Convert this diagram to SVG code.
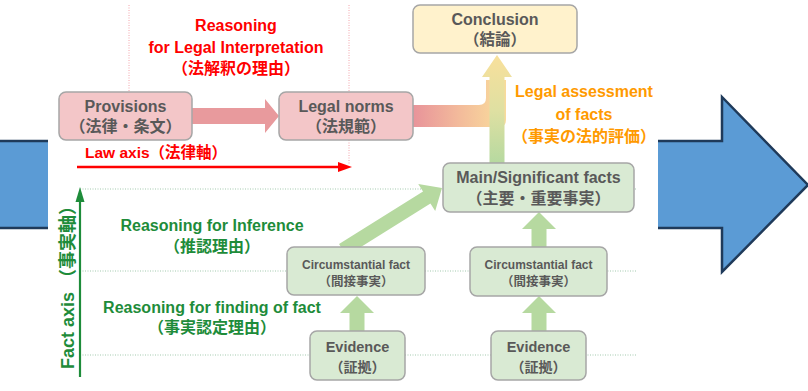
<svg xmlns="http://www.w3.org/2000/svg" width="808" height="391" viewBox="0 0 808 391">
  <defs>
    <style>
      text { font-family: "Liberation Sans", "Noto Sans CJK JP", sans-serif; font-weight: bold; }
      .node-label { fill: #595959; text-anchor: middle; }
      .law { fill: #f3c6c8; stroke: #a6a6a6; stroke-width: 1.5; }
      .fact { fill: #d9ead3; stroke: #a6a6a6; stroke-width: 1.5; }
      .concl { fill: #fff2cc; stroke: #a6a6a6; stroke-width: 1.5; }
      .grid-fact { stroke: #a3c9ae; stroke-width: 1; stroke-dasharray: 1 1.5; fill: none; }
      .grid-law { stroke: #f2a2aa; stroke-width: 1; stroke-dasharray: 1 1.5; fill: none; }
      .green-arrow { fill: #b6d9a0; }
      .red-txt { fill: #ff0000; text-anchor: middle; }
      .orange-txt { fill: #ff9a00; text-anchor: middle; }
      .green-txt { fill: #1e8c3a; text-anchor: middle; }
      .big-arrow { fill: #5b9bd5; stroke: #1f3a5a; stroke-width: 2.5; stroke-linejoin: miter; }
    </style>
    <linearGradient id="gradBand" gradientUnits="userSpaceOnUse" x1="413" y1="0" x2="500" y2="0">
      <stop offset="0" stop-color="#e8939a"/>
      <stop offset="0.55" stop-color="#f3bc9b"/>
      <stop offset="1" stop-color="#f9da9c"/>
    </linearGradient>
    <linearGradient id="gradUp" gradientUnits="userSpaceOnUse" x1="0" y1="163" x2="0" y2="58">
      <stop offset="0" stop-color="#b6d9a0"/>
      <stop offset="0.5" stop-color="#dfe0a2"/>
      <stop offset="1" stop-color="#f7e09c"/>
    </linearGradient>
  </defs>

  <!-- large blue block arrows at the sides -->
  <g id="blue-arrow-left">
    <rect x="0" y="141" width="48" height="87" fill="#5b9bd5"/>
    <path d="M0,141 H48 M48,228 H0" stroke="#1f3a5a" stroke-width="2.5" fill="none"/>
  </g>
  <g id="blue-arrow-right">
    <path d="M658,141 H722 V97 L808,185 L722,272 V228 H658" fill="#5b9bd5"/>
    <path d="M658,141 H722 V97 L808,185 L722,272 V228 H658" class="big-arrow" fill="none"/>
  </g>

  <!-- guide lines -->
  <g id="guides">
    <line class="grid-law" x1="129" y1="5" x2="129" y2="92"/>
    <line class="grid-law" x1="349" y1="5" x2="349" y2="165"/>
    <line class="grid-fact" x1="80" y1="189" x2="637" y2="189"/>
    <line class="grid-fact" x1="80" y1="271" x2="637" y2="271"/>
    <line class="grid-fact" x1="80" y1="355" x2="637" y2="355"/>
  </g>

  <!-- axes -->
  <g id="law-axis">
    <line x1="77" y1="167" x2="340" y2="167" stroke="#ff0000" stroke-width="2.5"/>
    <polygon points="338,162 352,167 338,172" fill="#ff0000"/>
    <text x="85" y="158" font-size="15.5" fill="#ff0000">Law axis（法律軸）</text>
  </g>
  <g id="fact-axis">
    <line x1="80" y1="377" x2="80" y2="200" stroke="#1e8c3a" stroke-width="2.2"/>
    <polygon points="75.5,202 80,187 84.5,202" fill="#1e8c3a"/>
    <text transform="translate(73.5,283) rotate(-90)" x="0" y="0" font-size="18" fill="#1e8c3a" text-anchor="middle">Fact axis （事実軸）</text>
  </g>

  <!-- connectors -->
  <g id="connectors">
    <!-- provisions to legal norms -->
    <polygon points="192,108 265,108 265,99 279,116 265,133 265,124 192,124" fill="#e89a9d"/>
    <!-- legal norms joining the assessment column -->
    <path d="M413,105 H479 Q486,105 486,98 V80 H506 V120 Q506,127 499,127 H413 Z" fill="url(#gradBand)"/>
    <!-- main facts up to conclusion -->
    <polygon points="489.5,163 489.5,77 482,77 497,55 512,77 504.5,77 504.5,163" fill="url(#gradUp)"/>
    <!-- left circumstantial fact to main facts -->
    <path class="green-arrow" transform="translate(442,188) rotate(-32)" d="M0,0 L-18,-16 L-18,-7 L-117,-7 L-117,7 L-18,7 L-18,16 Z"/>
    <!-- right circumstantial fact to main facts -->
    <polygon class="green-arrow" points="531.5,247 531.5,229 522,229 539,212 556,229 546.5,229 546.5,247"/>
    <!-- evidence to circumstantial facts -->
    <polygon class="green-arrow" points="349.5,331 349.5,313 340,313 357,296 374,313 364.5,313 364.5,331"/>
    <polygon class="green-arrow" points="531.5,331 531.5,313 522,313 539,296 556,313 546.5,313 546.5,331"/>
  </g>

  <!-- reasoning labels -->
  <g id="label-legal-interpretation">
    <text class="red-txt" x="236" y="31" font-size="16">Reasoning</text>
    <text class="red-txt" x="236" y="53" font-size="16">for Legal Interpretation</text>
    <text class="red-txt" x="236" y="74" font-size="16">（法解釈の理由）</text>
  </g>
  <g id="label-legal-assessment">
    <text class="orange-txt" x="584" y="97" font-size="16">Legal assessment</text>
    <text class="orange-txt" x="584" y="120" font-size="16">of facts</text>
    <text class="orange-txt" x="584" y="142" font-size="16">（事実の法的評価）</text>
  </g>
  <g id="label-inference">
    <text class="green-txt" x="212" y="231" font-size="16">Reasoning for Inference</text>
    <text class="green-txt" x="212" y="252" font-size="16">（推認理由）</text>
  </g>
  <g id="label-finding">
    <text class="green-txt" x="212" y="313" font-size="16">Reasoning for finding of fact</text>
    <text class="green-txt" x="212" y="333" font-size="16">（事実認定理由）</text>
  </g>

  <!-- nodes -->
  <g id="provisions">
    <rect class="law" x="59" y="92" width="133" height="48" rx="7"/>
    <text class="node-label" x="125.5" y="112" font-size="16">Provisions</text>
    <text class="node-label" x="125.5" y="132" font-size="16">（法律・条文）</text>
  </g>
  <g id="legal-norms">
    <rect class="law" x="279" y="92" width="134" height="48" rx="7"/>
    <text class="node-label" x="346" y="112" font-size="16">Legal norms</text>
    <text class="node-label" x="346" y="132" font-size="16">（法規範）</text>
  </g>
  <g id="conclusion">
    <rect class="concl" x="413" y="5" width="164" height="48" rx="7"/>
    <text class="node-label" x="495" y="25" font-size="16">Conclusion</text>
    <text class="node-label" x="495" y="45" font-size="15.5">（結論）</text>
  </g>
  <g id="main-facts">
    <rect class="fact" x="443" y="163" width="191" height="49" rx="7"/>
    <text class="node-label" x="538.5" y="183" font-size="16">Main/Significant facts</text>
    <text class="node-label" x="538.5" y="204" font-size="16">（主要・重要事実）</text>
  </g>
  <g id="circumstantial-left">
    <rect class="fact" x="287" y="247" width="138" height="48" rx="7"/>
    <text class="node-label" x="356" y="269" font-size="12">Circumstantial fact</text>
    <text class="node-label" x="356" y="286" font-size="12.5">（間接事実）</text>
  </g>
  <g id="circumstantial-right">
    <rect class="fact" x="470" y="247" width="137" height="49" rx="7"/>
    <text class="node-label" x="538.5" y="269" font-size="12">Circumstantial fact</text>
    <text class="node-label" x="538.5" y="286" font-size="12.5">（間接事実）</text>
  </g>
  <g id="evidence-left">
    <rect class="fact" x="310" y="331" width="95" height="49" rx="7"/>
    <text class="node-label" x="357.5" y="352" font-size="14.5">Evidence</text>
    <text class="node-label" x="357.5" y="372" font-size="14">（証拠）</text>
  </g>
  <g id="evidence-right">
    <rect class="fact" x="491" y="331" width="95" height="49" rx="7"/>
    <text class="node-label" x="538.5" y="352" font-size="14.5">Evidence</text>
    <text class="node-label" x="538.5" y="372" font-size="14">（証拠）</text>
  </g>
</svg>
